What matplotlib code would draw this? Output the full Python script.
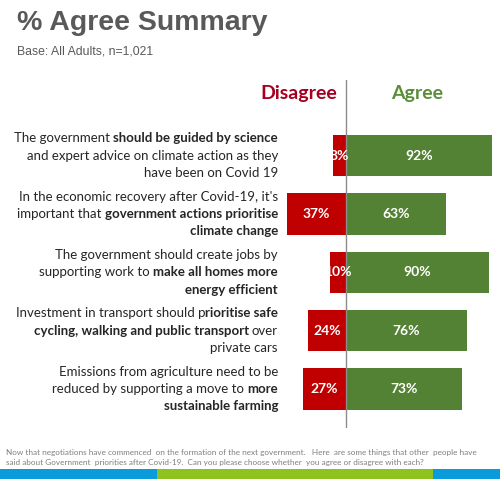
import matplotlib
matplotlib.use("Agg")
import matplotlib.pyplot as plt
import numpy as np

# Data
disagree = [8, 37, 10, 24, 27]
agree = [92, 63, 90, 76, 73]

# statement text, line by line, as (text, bold) segments
statements = [
    [[("The government ", False), ("should be guided by science", True)],
     [("and expert advice on climate action as they", False)],
     [("have been on Covid 19", False)]],
    [[("In the economic recovery after Covid-19, it's", False)],
     [("important that ", False), ("government actions prioritise", True)],
     [("climate change", True)]],
    [[("The government should create jobs by", False)],
     [("supporting work to ", False), ("make all homes more", True)],
     [("energy efficient", True)]],
    [[("Investment in transport should p", False), ("rioritise safe", True)],
     [("cycling, walking and public transport", True), (" over", False)],
     [("private cars", False)]],
    [[("Emissions from agriculture need to be", False)],
     [("reduced by supporting a move to ", False), ("more", True)],
     [("sustainable farming", True)]],
]

title = "% Agree Summary"
subtitle = "Base: All Adults, n=1,021"
footnote = ["Now that negotiations have commenced  on the formation of the next government.   Here  are some things that other  people have",
            "said about Government  priorities after Covid-19.  Can you please choose whether  you agree or disagree with each?"]

RED = "#C00000"
GREEN = "#548235"
W, H = 500, 479

fig = plt.figure(figsize=(W / 100, H / 100), dpi=100)
fig.patch.set_facecolor("white")

# bar axes: x=0 at pixel 346, 1% ~ 1.59 px
px_per = 1.59
x0_px = 346
xmin, xmax = -60, 100
ax_left = x0_px + xmin * px_per
ax_w = (xmax - xmin) * px_per
row0, step = 155.5, 58.4
top_px, bot_px = 80, 428
ax = fig.add_axes([ax_left / W, 1 - bot_px / H, ax_w / W, (bot_px - top_px) / H])
ax.set_xlim(xmin, xmax)
ax.set_ylim((bot_px - row0) / step, (top_px - row0) / step)
ax.axis("off")

y = np.arange(len(agree))
ax.barh(y, [-d for d in disagree], height=0.71, color=RED)
ax.barh(y, agree, height=0.71, color=GREEN)
ax.axvline(0, color="#8c8c8c", lw=1)

lab_font = "Lato"
for i in range(len(agree)):
    ax.text(-disagree[i] / 2, i, f"{disagree[i]}%", ha="center", va="center",
            color="white", fontweight="bold", fontsize=10, family=lab_font)
    ax.text(agree[i] / 2, i, f"{agree[i]}%", ha="center", va="center",
            color="white", fontweight="bold", fontsize=10, family=lab_font)

hy = (93 - row0) / step
ax.text(-5.5, hy, "Disagree", ha="right", va="center", color="#A50021",
        fontweight="bold", fontsize=14, family=lab_font)
ax.text(45, hy, "Agree", ha="center", va="center", color="#5B8E3A",
        fontweight="bold", fontsize=14, family=lab_font)

# statements, right aligned, with mixed bold runs
fig.canvas.draw()
renderer = fig.canvas.get_renderer()
txt_size = 9.5


def width_of(s, bold):
    t = fig.text(0, 0, s, fontsize=txt_size, family=lab_font,
                 fontweight="bold" if bold else "normal")
    w = t.get_window_extent(renderer).width
    t.remove()
    return w


space_w = {b: width_of("x x", b) - width_of("xx", b) for b in (False, True)}

right_px = 278
line_gap = 17.3
for i, lines in enumerate(statements):
    cy = row0 + step * i
    for j, segs in enumerate(lines):
        ly = cy + (j - 1) * line_gap
        x = right_px
        for text, bold in reversed(segs):
            if text.endswith(" "):
                x -= space_w[bold]
            s = text.strip()
            t = fig.text(x / W, 1 - ly / H, s, ha="right", va="center",
                         fontsize=txt_size, family=lab_font, color="#262626",
                         fontweight="bold" if bold else "normal")
            x -= t.get_window_extent(renderer).width
            if text.startswith(" "):
                x -= space_w[bold]

fig.text(17 / W, 1 - 23 / H, title, ha="left", va="center", fontsize=20.5,
         fontweight="bold", color="#595959", family="Liberation Sans")
fig.text(17 / W, 1 - 52 / H, subtitle, ha="left", va="center", fontsize=8.8,
         color="#595959", family="Liberation Sans")
for k, line in enumerate(footnote):
    fig.text(6 / W, 1 - (452 + 11 * k) / H, line, ha="left", va="center",
             fontsize=5.9, color="#7f7f7f", family=lab_font)

# bottom colour band
band = fig.add_axes([0, 0, 1, 10 / H])
band.set_xlim(0, W)
band.set_ylim(0, 1)
band.axis("off")
band.barh(0.5, [157, 276, 67], left=[0, 157, 433], height=1,
          color=["#0A9BDC", "#8DC21F", "#0A9BDC"])

fig.savefig("out.png", dpi=100)
